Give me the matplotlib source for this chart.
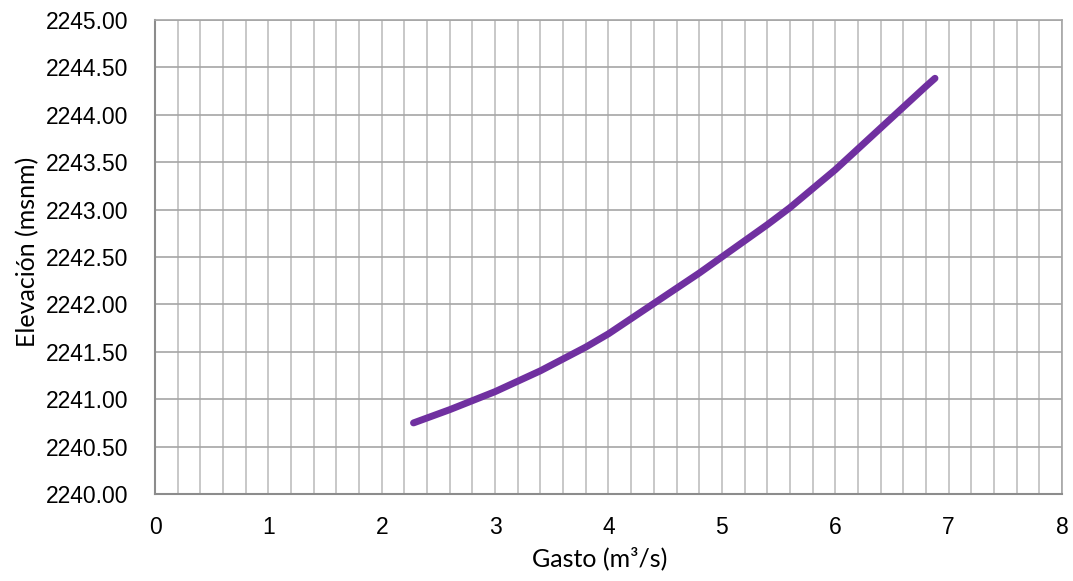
import matplotlib.pyplot as plt
from matplotlib.ticker import MultipleLocator

gasto = [2.28, 2.60, 3.00, 3.40, 3.80, 4.00, 4.40, 4.80, 5.00, 5.20, 5.40,
         5.60, 5.80, 6.00, 6.20, 6.40, 6.60, 6.80, 6.88]
elevacion = [2240.75, 2240.89, 2241.08, 2241.30, 2241.55, 2241.69, 2242.01, 2242.33,
             2242.50, 2242.67, 2242.84, 2243.02, 2243.22, 2243.42, 2243.64, 2243.86,
             2244.08, 2244.30, 2244.385]

tick_font = ['Liberation Sans', 'DejaVu Sans']
label_font = ['Lato', 'DejaVu Sans']

fig = plt.figure(figsize=(10.73, 5.81), dpi=100)
ax = fig.add_axes([0.1445, 0.1497, 0.8452, 0.8159])

ax.plot(gasto, elevacion, color='#7030A0', linewidth=5, solid_capstyle='round',
        solid_joinstyle='round', zorder=3)

ax.set_xlim(0, 8)
ax.set_ylim(2240, 2245)
ax.xaxis.set_major_locator(MultipleLocator(1))
ax.xaxis.set_minor_locator(MultipleLocator(0.2))
ax.yaxis.set_major_locator(MultipleLocator(0.5))
ax.yaxis.set_major_formatter(lambda v, p: f'{v:.2f}')

ax.grid(True, which='major', axis='y', color='#a6a6a6', linewidth=1.2)
ax.grid(True, which='both', axis='x', color='#bfbfbf', linewidth=1.2)
ax.set_axisbelow(True)

for side in ['top', 'right']:
    ax.spines[side].set_color('#a6a6a6')
    ax.spines[side].set_linewidth(1.2)
for side in ['left', 'bottom']:
    ax.spines[side].set_color('#8c8c8c')
    ax.spines[side].set_linewidth(1.5)

ax.tick_params(which='both', length=0)
ax.tick_params(axis='x', pad=16)
ax.tick_params(axis='y', pad=19)
for lbl in ax.get_xticklabels() + ax.get_yticklabels():
    lbl.set_family(tick_font)
    lbl.set_fontsize(16.5)

ax.set_xlabel('Gasto (m³/s)', family=label_font, fontsize=18)
ax.set_ylabel('Elevación (msnm)', family=label_font, fontsize=18)
ax.xaxis.label.set_verticalalignment('center')
ax.yaxis.label.set_verticalalignment('center')
ax.xaxis.set_label_coords(0.49, -0.135)
ax.yaxis.set_label_coords(-0.141, 0.51)

fig.savefig('out.png', dpi=100)
